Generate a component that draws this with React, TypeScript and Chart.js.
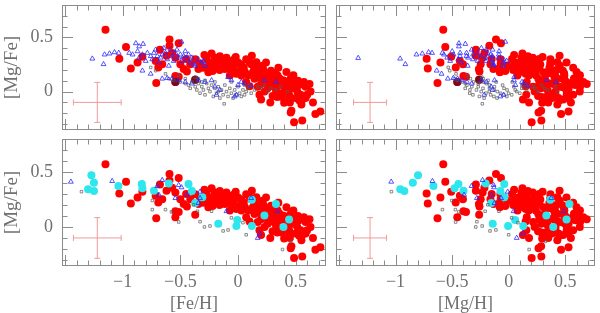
import React, { useEffect, useRef } from "react";
import { Chart, registerables } from "chart.js";

Chart.register(...registerables);

// ---------------- data ----------------
// Red filled circles: [Fe/H], [Mg/Fe]
const redFeH = [
  -1.149, -0.971, -1.029, -0.929, -0.871, -0.829, -0.709, -0.714, -0.691, -0.657,
  -0.677, -0.594, -0.594, -0.571, -0.514, -0.543, -0.5, -0.471, -0.443, -0.543,
  -0.543, -0.414, -0.371, -0.371, -0.343, -0.291, -0.257, -0.229, -0.214, -0.2,
  -0.186, -0.171, -0.157, -0.143, -0.129, -0.114, -0.1, -0.086, -0.071, -0.057,
  -0.043, -0.029, -0.014, 0.0, 0.014, 0.029, 0.071, 0.071, 0.114, 0.129,
  0.143, 0.157, 0.171, 0.186, 0.2, 0.214, 0.229, 0.243, 0.243, 0.257,
  0.271, 0.286, 0.3, 0.314, 0.329, 0.343, 0.357, 0.371, 0.386, 0.4,
  0.4, 0.414, 0.429, 0.443, 0.457, 0.471, 0.486, 0.5, 0.514, 0.529,
  0.543, 0.557, 0.557, 0.571, 0.586, 0.457, 0.463, 0.671, 0.714, 0.586,
  0.629, 0.443, -0.514, -0.62, -0.45, -0.33, -0.25, -0.05, 0.05, 0.09,
  0.1, 0.2, 0.35, 0.48, 0.38, 0.3, 0.23, 0.16, -0.02, 0.12,
  0.42, 0.28, 0.52, -0.3, -0.27, -0.22, -0.16, -0.08, -0.03, 0.03,
  0.06, 0.1, 0.14, 0.18, 0.2, 0.22, 0.26, 0.28, 0.32, 0.33,
  0.36, 0.4, 0.44, 0.47, 0.5, 0.53, 0.6, 0.62, 0.65, 0.55,
  0.45, 0.34,
];
const redMgFe = [
  0.571, 0.411, 0.304, 0.214, 0.268, 0.321, 0.08, 0.283, 0.223, 0.253,
  0.387, 0.482, 0.423, 0.357, 0.446, 0.313, 0.253, 0.208, 0.185, 0.143,
  0.089, 0.253, 0.298, 0.11, 0.208, 0.339, 0.179, 0.351, 0.268, 0.313,
  0.223, 0.274, 0.327, 0.238, 0.283, 0.208, 0.313, 0.253, 0.149, 0.283,
  0.223, 0.253, 0.164, 0.268, 0.193, 0.149, 0.298, 0.089, 0.253, 0.179,
  0.119, 0.208, 0.045, -0.03, -0.074, 0.238, 0.164, 0.268, 0.089, 0.03,
  0.134, 0.193, 0.074, 0.119, 0.015, 0.149, 0.06, -0.015, 0.104, 0.045,
  -0.104, 0.0, 0.074, -0.03, -0.193, 0.03, -0.283, -0.06, 0.0, 0.06,
  -0.03, -0.268, -0.074, 0.089, -0.06, 0.12, -0.176, -0.208, -0.185, 0.045,
  0.0, -0.06, 0.137, 0.33, 0.3, 0.26, 0.24, 0.18, 0.22, 0.15,
  0.05, 0.12, 0.22, 0.15, -0.05, -0.04, 0.0, 0.27, 0.32, 0.33,
  0.18, -0.1, 0.1, 0.22, 0.3, 0.19, 0.2, 0.22, 0.3, 0.25,
  0.18, 0.27, 0.22, 0.17, 0.07, 0.2, 0.15, 0.05, 0.17, 0.07,
  0.12, 0.1, 0.04, 0.08, 0.03, -0.08, -0.03, 0.07, -0.1, -0.12,
  -0.1, -0.05,
];
// darker circles seen in the upper panels
const darkFeH = [-0.543, -0.371];
const darkMgFe = [0.089, 0.11];

// Blue open triangles (upper panels)
const triFeH = [
  -1.64, -1.263, -1.157, -1.166, -1.114, -1.071, -1.034, -0.886, -0.857, -0.823,
  -0.943, -0.914, -0.871, -0.857, -0.829, -0.8, -0.786, -0.757, -0.743, -0.729,
  -0.714, -0.7, -0.686, -0.671, -0.657, -0.643, -0.629, -0.614, -0.6, -0.586,
  -0.571, -0.557, -0.543, -0.529, -0.514, -0.5, -0.486, -0.471, -0.457, -0.443,
  -0.429, -0.414, -0.4, -0.386, -0.371, -0.343, -0.314, -0.3, -0.286, -0.829,
  -0.757, -0.657, -0.614, -0.571, -0.514, -0.457, -0.4, -0.343, -0.286, -0.229,
  -0.2, -0.186, -0.157, -0.086, -0.057, -0.029, -0.014, 0.0, 0.029, 0.057,
  0.114, 0.229, 0.329, -0.49,
];
const triMgFe = [
  0.31, 0.304, 0.342, 0.253, 0.351, 0.363, 0.357, 0.446, 0.417, 0.44,
  0.357, 0.342, 0.372, 0.313, 0.342, 0.283, 0.357, 0.327, 0.298, 0.357,
  0.387, 0.327, 0.268, 0.313, 0.342, 0.402, 0.357, 0.298, 0.238, 0.387,
  0.327, 0.283, 0.357, 0.387, 0.313, 0.342, 0.283, 0.327, 0.372, 0.298,
  0.342, 0.268, 0.313, 0.253, 0.238, 0.298, 0.268, 0.283, 0.238, 0.193,
  0.164, 0.119, 0.125, 0.119, 0.104, 0.089, 0.074, 0.104, 0.089, 0.104,
  0.045, -0.03, 0.015, 0.134, 0.104, -0.045, -0.03, 0.06, 0.089, 0.074,
  0.054, 0.104, 0.089, 0.46,
];

// Grey open squares (upper panels)
const sqFeH = [
  -0.757, -0.714, -0.629, -0.6, -0.557, -0.5, -0.457, -0.429, -0.414, -0.4,
  -0.371, -0.357, -0.343, -0.329, -0.314, -0.3, -0.286, -0.271, -0.257, -0.243,
  -0.229, -0.214, -0.2, -0.186, -0.171, -0.157, -0.143, -0.129, -0.12, -0.114,
  -0.1, -0.086, -0.071, -0.057, -0.043, -0.029, -0.014, 0.0, 0.014, 0.029,
  0.043, 0.057, 0.071, 0.086, 0.1, 0.114, 0.143, 0.171, 0.2, 0.229,
  0.257, 0.286, 0.329, 0.371, 0.429, -0.343, -0.371, -0.457, -0.514, -0.286,
  -0.2, -0.057, 0.057, -0.314, -0.171,
];
const sqMgFe = [
  0.223, 0.193, 0.164, 0.119, 0.104, 0.089, 0.074, 0.06, 0.03, 0.089,
  0.045, 0.015, 0.074, -0.015, 0.045, 0.015, -0.03, 0.074, 0.03, 0.0,
  0.06, -0.045, 0.03, -0.015, 0.045, -0.06, 0.015, -0.03, -0.113, 0.06,
  0.0, -0.045, 0.03, -0.015, -0.06, 0.015, -0.03, 0.045, -0.015, -0.045,
  0.015, -0.03, 0.0, 0.03, 0.06, -0.015, 0.015, 0.045, 0.03, 0.06,
  0.0, 0.03, 0.015, 0.045, 0.0, 0.119, 0.134, 0.119, 0.149, 0.104,
  0.089, 0.089, 0.06, 0.089, 0.0,
];

// Cyan filled circles (lower panels)
const cyanFeH = [
  -1.271, -1.3, -1.249, -1.249, -1.037, -0.834, -0.829, -0.729, -0.6, -0.429,
  -0.4, -0.371, -0.309, -0.171, -0.006, -0.014, 0.12, 0.12, 0.229, 0.329,
  0.394, 0.443,
];
const cyanMgFe = [
  0.47, 0.342, 0.402, 0.327, 0.372, 0.39, 0.351, 0.33, 0.396, 0.39,
  0.327, 0.217, 0.271, 0.03, 0.063, 0.009, 0.247, 0.009, 0.104, 0.208,
  0.0, 0.068,
];

// Blue open triangles (lower panels)
const triLowFeH = [
  -1.449, -1.091, -0.7, -0.657, -0.686, -0.543, -0.514, -0.49, -0.443, -0.343,
  -0.329, -0.1, 0.114, 0.186, 0.171, 0.343, -0.329,
];
const triLowMgFe = [
  0.411, 0.417, 0.372, 0.426, 0.292, 0.262, 0.381, 0.36, 0.292, 0.217,
  0.262, 0.143, 0.262, -0.06, -0.1, 0.143, 0.32,
];

// Grey open squares (lower panels)
const sqLowFeH = [
  -1.357, -0.743, -0.629, -0.577, -0.514, -0.386, -0.351, -0.329, -0.291, -0.243,
  -0.129, -0.086, 0.071, 0.043, 0.457, 0.386, -0.229, -0.057, -0.743,
];
const sqLowMgFe = [
  0.321, 0.241, 0.158, 0.137, 0.045, 0.202, 0.143, 0.048, 0.0, 0.009,
  -0.036, -0.027, -0.071, 0.039, -0.131, -0.205, 0.143, 0.083, 0.158,
];

// typical error bars (centre and half-lengths)
const errCentre = { feh: -1.22, mgh: -1.225, mgfe: -0.1 };
const errFeH = 0.207;
const errMgH = 0.146;
const errMgFe = 0.185;

const xTicks = [-1, -0.5, 0, 0.5];
const yTicks = [0, 0.5];
const X_MIN = -1.526;
const X_MAX = 0.763;
const Y_MIN = -0.355;
const Y_MAX = 0.8;

// ---------------- helpers ----------------
type Pt = { x: number; y: number };
const pts = (xs: number[], ys: number[], useMgH: boolean): Pt[] =>
  xs.map((x, i) => ({ x: useMgH ? x + ys[i] : x, y: ys[i] }));

const TEXT = "#707070";
const FONT = { family: "'Liberation Serif', 'DejaVu Serif', serif", size: 18, lineHeight: 1 };

const fmt = (v: number) => {
  if (v === 0) return "0";
  const s = String(Math.abs(v));
  return v < 0 ? "\u2212" + s : s;
};

const framePlugin = {
  id: "pgframe",
  beforeDatasetsDraw(chart: any) {
    const { ctx, chartArea: a, scales } = chart;
    const xs = scales.x;
    const ys = scales.y;
    ctx.save();
    ctx.strokeStyle = "#8c8c8c";
    ctx.lineWidth = 1;
    ctx.strokeRect(a.left + 0.5, a.top + 0.5, a.right - a.left - 1, a.bottom - a.top - 1);
    ctx.beginPath();
    for (let i = Math.ceil(xs.min * 10); i <= Math.floor(xs.max * 10); i++) {
      const len = i % 5 === 0 ? 11 : 5.5;
      const px = Math.round(xs.getPixelForValue(i / 10)) + 0.5;
      ctx.moveTo(px, a.bottom);
      ctx.lineTo(px, a.bottom - len);
      ctx.moveTo(px, a.top);
      ctx.lineTo(px, a.top + len);
    }
    for (let i = Math.ceil(ys.min * 10); i <= Math.floor(ys.max * 10); i++) {
      const len = i % 5 === 0 ? 11 : 5.5;
      const py = Math.round(ys.getPixelForValue(i / 10)) + 0.5;
      ctx.moveTo(a.left, py);
      ctx.lineTo(a.left + len, py);
      ctx.moveTo(a.right, py);
      ctx.lineTo(a.right - len, py);
    }
    ctx.stroke();
    ctx.restore();
  },
};

type Spec = {
  id: string;
  left: number;
  top: number;
  w: number;
  h: number;
  padding: { top: number; right: number; bottom: number; left: number };
  showX: boolean;
  showY: boolean;
  mgh: boolean;
  lower: boolean;
};

const PANELS: Spec[] = [
  { id: "tl", left: 0, top: 0, w: 331, h: 135, padding: { top: 4, right: 2, bottom: 2, left: 0 }, showX: false, showY: true, mgh: false, lower: false },
  { id: "tr", left: 331, top: 0, w: 269, h: 135, padding: { top: 4, right: 3, bottom: 2, left: 1 }, showX: false, showY: false, mgh: true, lower: false },
  { id: "bl", left: 0, top: 134, w: 331, h: 179, padding: { top: 2, right: 2, bottom: 0, left: 0 }, showX: true, showY: true, mgh: false, lower: true },
  { id: "br", left: 331, top: 134, w: 269, h: 179, padding: { top: 2, right: 3, bottom: 0, left: 1 }, showX: true, showY: false, mgh: true, lower: true },
];

function buildDatasets(s: Spec) {
  const m = s.mgh;
  const ERR = "#f09a9a";
  const cx = m ? errCentre.mgh : errCentre.feh;
  const ex = m ? errMgH : errFeH;
  const cy = errCentre.mgfe;
  const ds: any[] = [
    {
      label: "errx",
      data: [{ x: cx - ex, y: cy }, { x: cx + ex, y: cy }],
      showLine: true,
      borderColor: ERR,
      borderWidth: 1,
      pointStyle: "line",
      rotation: 90,
      pointRadius: 3,
      pointBorderColor: ERR,
      pointBorderWidth: 1,
      order: 0,
    },
    {
      label: "erry",
      data: [{ x: cx, y: cy - errMgFe }, { x: cx, y: cy + errMgFe }],
      showLine: true,
      borderColor: ERR,
      borderWidth: 1,
      pointStyle: "line",
      rotation: 0,
      pointRadius: 3,
      pointBorderColor: ERR,
      pointBorderWidth: 1,
      order: 0,
    },
    {
      label: "triangles",
      data: s.lower ? pts(triLowFeH, triLowMgFe, m) : pts(triFeH, triMgFe, m),
      pointStyle: "triangle",
      pointRadius: 2.8,
      borderColor: "#2a2aff",
      backgroundColor: "rgba(0,0,0,0)",
      borderWidth: 0.8,
      order: 1,
    },
    {
      label: "squares",
      data: s.lower ? pts(sqLowFeH, sqLowMgFe, m) : pts(sqFeH, sqMgFe, m),
      pointStyle: "rect",
      pointRadius: 1.8,
      borderColor: "#5a5a5a",
      backgroundColor: "rgba(0,0,0,0)",
      borderWidth: 0.7,
      order: 2,
    },
  ];
  if (s.lower) {
    ds.push({
      label: "cyan",
      data: pts(cyanFeH, cyanMgFe, m),
      pointStyle: "circle",
      pointRadius: 4,
      borderWidth: 0,
      backgroundColor: "#2ee6ee",
      order: 3,
    });
  } else {
    ds.push({
      label: "dark",
      data: pts(darkFeH, darkMgFe, m),
      pointStyle: "circle",
      pointRadius: 4,
      borderWidth: 0,
      backgroundColor: "#7a0a1a",
      order: 3,
    });
  }
  ds.push({
    label: "red",
    data: pts(redFeH, redMgFe, m),
    pointStyle: "circle",
    pointRadius: 4,
    borderWidth: 0,
    backgroundColor: "#ff0000",
    order: 4,
  });
  return ds;
}

function Panel({ spec }: { spec: Spec }) {
  const ref = useRef<HTMLCanvasElement | null>(null);
  useEffect(() => {
    if (!ref.current) return;
    const noPad = (sc: any) => {
      sc.paddingTop = 0;
      sc.paddingBottom = 0;
      sc.paddingLeft = 0;
      sc.paddingRight = 0;
    };
    const chart = new Chart(ref.current, {
      type: "scatter",
      data: { datasets: buildDatasets(spec) },
      plugins: [framePlugin],
      options: {
        animation: false,
        responsive: false,
        maintainAspectRatio: false,
        events: [],
        layout: { padding: spec.padding },
        plugins: { legend: { display: false }, tooltip: { enabled: false } },
        scales: {
          x: {
            type: "linear",
            min: X_MIN,
            max: X_MAX,
            display: spec.showX,
            grid: { display: false, drawTicks: false },
            border: { display: false },
            afterBuildTicks: (sc: any) => {
              sc.ticks = xTicks.map((v) => ({ value: v }));
            },
            afterFit: (sc: any) => {
              noPad(sc);
              sc.height = spec.showX ? 47 : 0;
            },
            ticks: {
              padding: 7,
              color: TEXT,
              font: FONT,
              maxRotation: 0,
              autoSkip: false,
              callback: (v: any) => fmt(Number(v)),
            },
            title: {
              display: true,
              text: spec.mgh ? "[Mg/H]" : "[Fe/H]",
              color: TEXT,
              font: FONT,
              padding: { top: 0, bottom: 0 },
            },
          },
          y: {
            type: "linear",
            min: Y_MIN,
            max: Y_MAX,
            display: spec.showY,
            grid: { display: false, drawTicks: false },
            border: { display: false },
            afterBuildTicks: (sc: any) => {
              sc.ticks = yTicks.map((v) => ({ value: v }));
            },
            afterFit: (sc: any) => {
              noPad(sc);
              sc.width = spec.showY ? 62 : 0;
            },
            ticks: {
              padding: 9,
              color: TEXT,
              font: FONT,
              autoSkip: false,
              callback: (v: any) => fmt(Number(v)),
            },
            title: {
              display: true,
              text: "[Mg/Fe]",
              color: TEXT,
              font: { ...FONT, size: 19 },
              padding: { top: 3, bottom: 0 },
            },
          },
        },
      } as any,
    });
    return () => chart.destroy();
  }, [spec]);
  return (
    <canvas
      ref={ref}
      width={spec.w}
      height={spec.h}
      style={{ position: "absolute", left: spec.left, top: spec.top, width: spec.w, height: spec.h }}
    />
  );
}

export default function App() {
  return (
    <div style={{ position: "absolute", left: 0, top: 0, width: 600, height: 313, background: "#fff" }}>
      {PANELS.map((p) => (
        <Panel key={p.id} spec={p} />
      ))}
    </div>
  );
}
